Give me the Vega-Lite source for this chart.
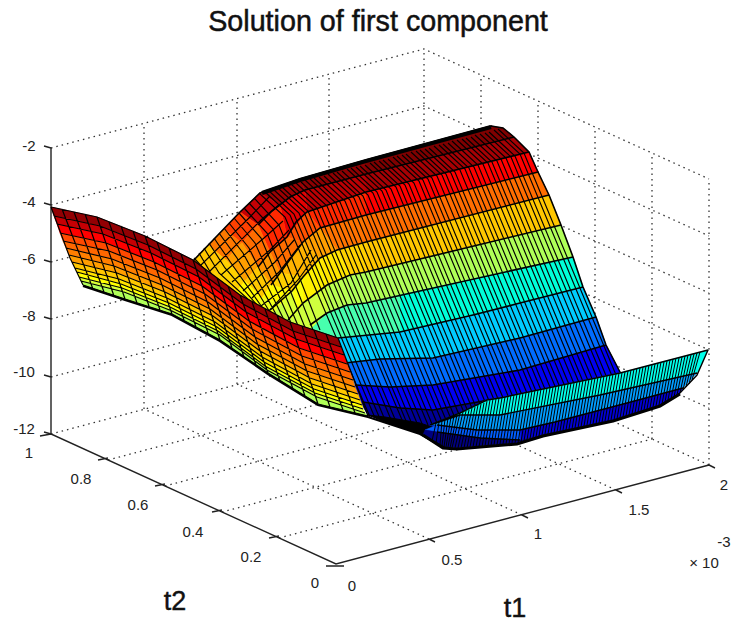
{"$schema":"https://vega.github.io/schema/vega-lite/v6.json","width":732,"height":622,"padding":0,"autosize":{"type":"none"},"background":"white","view":{"stroke":null},
"projection":{"type":"identity","scale":1,"translate":[0,0]},
"layer":[
{"data":{"values":[{"type":"Feature","properties":{"name":"grid"},"geometry":{"type":"MultiLineString","coordinates":[
[[51,148],[424,49],[709,179]],[[51,205],[424,106],[709,236]],[[51,262],[424,163],[709,293]],[[51,319],[424,220],[709,350]],[[51,377],[424,278],[709,408]],
[[144,409],[144,123]],[[237,384],[237,98]],[[329,360],[329,74]],[[424,335],[424,49]],
[[652,439],[652,153]],[[595,413],[595,127]],[[538,387],[538,101]],[[481,361],[481,75]],[[709,465],[709,179]],
[[429,539],[144,409]],[[522,515],[237,384]],[[616,490],[331,360]],[[709,465],[424,335]],
[[279,538],[652,439]],[[222,512],[595,413]],[[165,486],[538,387]],[[108,460],[481,361]],[[51,434],[424,335]]]}}]},
"mark":{"type":"geoshape","filled":false,"stroke":"#333333","strokeWidth":1.3,"strokeDash":[1.5,4]}},
{"data":{"values":[{"type":"Feature","properties":{"name":"axes"},"geometry":{"type":"MultiLineString","coordinates":[
[[51,148],[51,434],[336,564],[709,465]],[[44,146],[51,148]],[[44,203],[51,205]],[[44,260],[51,262]],[[44,317],[51,319]],[[44,375],[51,377]],[[44,432],[51,434]],[[40,436],[51,434]],
[[98,460],[108,458]],[[155,486],[165,484]],[[212,512],[222,510]],[[269,538],[279,536]],[[326,566],[344,566]],
[[429,539],[435,542]],[[522,515],[528,518]],[[616,490],[622,493]],[[709,465],[715,468]]]}}]},
"mark":{"type":"geoshape","filled":false,"stroke":"#222222","strokeWidth":1.4}},
{"data":{"values":[
{"type":"Feature","properties":{"z":-3.5},"geometry":{"type":"Polygon","coordinates":[[[491,126],[503,128],[514,137],[366,174],[366,160],[491,126]]]}},
{"type":"Feature","properties":{"z":-3.62},"geometry":{"type":"Polygon","coordinates":[[[366,160],[300,179],[305,190],[366,174],[366,160]]]}},
{"type":"Feature","properties":{"z":-3.74},"geometry":{"type":"Polygon","coordinates":[[[300,179],[260,193],[280,205],[305,190],[300,179]]]}},
{"type":"Feature","properties":{"z":-4.06},"geometry":{"type":"Polygon","coordinates":[[[260,193],[240,212],[258,225],[280,205],[260,193]]]}},
{"type":"Feature","properties":{"z":-4.78},"geometry":{"type":"Polygon","coordinates":[[[240,212],[224,229],[242,243],[258,225],[240,212]]]}},
{"type":"Feature","properties":{"z":-5.42},"geometry":{"type":"Polygon","coordinates":[[[224,229],[208,245],[226,260],[242,243],[224,229]]]}},
{"type":"Feature","properties":{"z":-6.06},"geometry":{"type":"Polygon","coordinates":[[[208,245],[192,262],[210,278],[226,260],[208,245]]]}},
{"type":"Feature","properties":{"z":-3.82},"geometry":{"type":"Polygon","coordinates":[[[514,137],[366,174],[366,192],[529,152],[514,137]]]}},
{"type":"Feature","properties":{"z":-3.98},"geometry":{"type":"Polygon","coordinates":[[[366,174],[305,190],[307,212],[366,192],[366,174]]]}},
{"type":"Feature","properties":{"z":-4.3},"geometry":{"type":"Polygon","coordinates":[[[305,190],[280,205],[287,237],[307,212],[305,190]]]}},
{"type":"Feature","properties":{"z":-4.62},"geometry":{"type":"Polygon","coordinates":[[[280,205],[258,225],[270,252],[287,237],[280,205]]]}},
{"type":"Feature","properties":{"z":-5.26},"geometry":{"type":"Polygon","coordinates":[[[258,225],[242,243],[258,267],[270,252],[258,225]]]}},
{"type":"Feature","properties":{"z":-5.74},"geometry":{"type":"Polygon","coordinates":[[[242,243],[226,260],[245,281],[258,267],[242,243]]]}},
{"type":"Feature","properties":{"z":-6.14},"geometry":{"type":"Polygon","coordinates":[[[226,260],[210,278],[233,296],[245,281],[226,260]]]}},
{"type":"Feature","properties":{"z":-4.5},"geometry":{"type":"Polygon","coordinates":[[[529,152],[366,192],[366,215],[538,172],[529,152]]]}},
{"type":"Feature","properties":{"z":-4.62},"geometry":{"type":"Polygon","coordinates":[[[366,192],[307,212],[320,228],[366,215],[366,192]]]}},
{"type":"Feature","properties":{"z":-4.94},"geometry":{"type":"Polygon","coordinates":[[[307,212],[287,237],[303,242],[320,228],[307,212]]]}},
{"type":"Feature","properties":{"z":-5.26},"geometry":{"type":"Polygon","coordinates":[[[287,237],[270,252],[280,273],[303,242],[287,237]]]}},
{"type":"Feature","properties":{"z":-5.66},"geometry":{"type":"Polygon","coordinates":[[[270,252],[258,267],[271,285],[280,273],[270,252]]]}},
{"type":"Feature","properties":{"z":-6.06},"geometry":{"type":"Polygon","coordinates":[[[258,267],[245,281],[262,298],[271,285],[258,267]]]}},
{"type":"Feature","properties":{"z":-6.46},"geometry":{"type":"Polygon","coordinates":[[[245,281],[233,296],[253,310],[262,298],[245,281]]]}},
{"type":"Feature","properties":{"z":-5.26},"geometry":{"type":"Polygon","coordinates":[[[538,172],[366,215],[366,242],[549,195],[538,172]]]}},
{"type":"Feature","properties":{"z":-5.34},"geometry":{"type":"Polygon","coordinates":[[[366,215],[320,228],[337,250],[366,242],[366,215]]]}},
{"type":"Feature","properties":{"z":-5.74},"geometry":{"type":"Polygon","coordinates":[[[320,228],[303,242],[320,258],[337,250],[320,228]]]}},
{"type":"Feature","properties":{"z":-5.9},"geometry":{"type":"Polygon","coordinates":[[[303,242],[280,273],[303,277],[320,258],[303,242]]]}},
{"type":"Feature","properties":{"z":-6.14},"geometry":{"type":"Polygon","coordinates":[[[280,273],[271,285],[292,291],[303,277],[280,273]]]}},
{"type":"Feature","properties":{"z":-6.46},"geometry":{"type":"Polygon","coordinates":[[[271,285],[262,298],[281,304],[292,291],[271,285]]]}},
{"type":"Feature","properties":{"z":-6.62},"geometry":{"type":"Polygon","coordinates":[[[262,298],[253,310],[270,318],[281,304],[262,298]]]}},
{"type":"Feature","properties":{"z":-6.06},"geometry":{"type":"Polygon","coordinates":[[[549,195],[366,242],[366,272],[561,225],[549,195]]]}},
{"type":"Feature","properties":{"z":-6.14},"geometry":{"type":"Polygon","coordinates":[[[366,242],[337,250],[350,275],[366,272],[366,242]]]}},
{"type":"Feature","properties":{"z":-6.3},"geometry":{"type":"Polygon","coordinates":[[[337,250],[320,258],[327,285],[350,275],[337,250]]]}},
{"type":"Feature","properties":{"z":-6.38},"geometry":{"type":"Polygon","coordinates":[[[320,258],[303,277],[303,303],[327,285],[320,258]]]}},
{"type":"Feature","properties":{"z":-6.54},"geometry":{"type":"Polygon","coordinates":[[[303,277],[292,291],[298,312],[303,303],[303,277]]]}},
{"type":"Feature","properties":{"z":-6.78},"geometry":{"type":"Polygon","coordinates":[[[292,291],[281,304],[293,321],[298,312],[292,291]]]}},
{"type":"Feature","properties":{"z":-6.94},"geometry":{"type":"Polygon","coordinates":[[[281,304],[270,318],[288,330],[293,321],[281,304]]]}},
{"type":"Feature","properties":{"z":-7.1},"geometry":{"type":"Polygon","coordinates":[[[561,225],[366,272],[366,303],[573,257],[561,225]]]}},
{"type":"Feature","properties":{"z":-7.1},"geometry":{"type":"Polygon","coordinates":[[[366,272],[350,275],[347,305],[366,303],[366,272]]]}},
{"type":"Feature","properties":{"z":-7.02},"geometry":{"type":"Polygon","coordinates":[[[350,275],[327,285],[327,313],[347,305],[350,275]]]}},
{"type":"Feature","properties":{"z":-6.86},"geometry":{"type":"Polygon","coordinates":[[[327,285],[303,303],[288,330],[310,335],[327,313],[327,285]]]}},
{"type":"Feature","properties":{"z":-8.14},"geometry":{"type":"Polygon","coordinates":[[[573,257],[400,295],[400,332],[473,315],[520,303],[583,287],[573,257]]]}},
{"type":"Feature","properties":{"z":-7.82},"geometry":{"type":"Polygon","coordinates":[[[400,295],[366,303],[347,305],[327,313],[310,330],[338,345],[400,332],[400,295]]]}},
{"type":"Feature","properties":{"z":-8.94},"geometry":{"type":"Polygon","coordinates":[[[583,287],[520,303],[473,315],[400,332],[338,338],[345,368],[380,359],[433,358],[520,338],[596,317],[583,287]]]}},
{"type":"Feature","properties":{"z":-9.74},"geometry":{"type":"Polygon","coordinates":[[[596,317],[520,338],[433,358],[380,359],[345,363],[350,390],[390,387],[433,385],[520,370],[606,345],[596,317]]]}},
{"type":"Feature","properties":{"z":-10.6},"geometry":{"type":"Polygon","coordinates":[[[606,345],[520,370],[433,385],[390,387],[355,385],[360,404],[400,408],[433,410],[500,398],[621,374],[606,345]]]}},
{"type":"Feature","properties":{"z":-11.3},"geometry":{"type":"Polygon","coordinates":[[[621,374],[500,398],[433,410],[400,408],[360,402],[368,415],[420,433],[445,447],[621,374]]]}}
]},
"mark":{"type":"geoshape","strokeWidth":0.6},"encoding":{"color":{"field":"properties.z","type":"quantitative","scale":{"domain":[-11.5,-10.5,-9.5,-8.5,-7.5,-6.5,-5.5,-4.5,-3.5],"range":["#00007f","#0000ff","#007fff","#00ffff","#7fff7f","#ffff00","#ff7f00","#ff0000","#7f0000"]},"legend":null},"stroke":{"field":"properties.z","type":"quantitative","scale":{"domain":[-11.5,-10.5,-9.5,-8.5,-7.5,-6.5,-5.5,-4.5,-3.5],"range":["#00007f","#0000ff","#007fff","#00ffff","#7fff7f","#ffff00","#ff7f00","#ff0000","#7f0000"]},"legend":null}}},
{"data":{"values":[{"type":"Feature","properties":{"name":"wall mesh"},"geometry":{"type":"MultiLineString","coordinates":[
[[498,129],[524,153],[616,375]],[[494,130],[520,154],[612,376]],[[489,132],[515,156],[607,378]],[[485,133],[511,157],[603,379]],[[480,134],[506,158],[598,380]],[[475,135],[501,159],[593,381]],[[471,137],[497,161],[589,383]],[[466,138],[492,162],[584,384]],[[462,139],[488,163],[580,385]],[[457,140],[483,164],[575,386]],[[452,141],[478,165],[570,387]],[[448,143],[474,167],[566,389]],[[443,144],[469,168],[561,390]],[[439,145],[465,169],[557,391]],[[434,146],[460,170],[552,392]],[[429,148],[455,172],[547,394]],[[425,149],[451,173],[543,395]],[[420,150],[446,174],[538,396]],[[416,151],[442,175],[534,397]],[[411,152],[437,176],[529,398]],[[406,154],[432,178],[524,400]],[[402,155],[428,179],[520,401]],[[397,156],[423,180],[515,402]],[[393,157],[419,181],[511,403]],[[388,159],[414,183],[506,405]],[[383,160],[409,184],[501,406]],[[379,161],[405,185],[497,407]],[[374,162],[400,186],[492,408]],[[370,163],[396,187],[488,409]],[[365,165],[391,189],[483,411]],[[360,166],[386,190],[478,412]],[[356,167],[382,191],[474,413]],[[351,168],[377,192],[469,414]],[[347,169],[373,193],[465,415]],[[342,171],[368,195],[460,417]],[[337,172],[363,196],[455,418]],[[333,173],[359,197],[451,419]],[[328,174],[354,198],[446,420]],[[324,176],[350,200],[442,422]],[[319,177],[345,201],[437,423]],[[314,178],[340,202],[432,424]],[[310,179],[336,203],[428,425]],[[305,180],[331,204],[423,426]],[[301,182],[327,206],[419,428]],[[296,183],[322,207],[414,429]],[[291,184],[317,208],[409,428]],[[287,185],[313,209],[405,427]],[[282,187],[308,211],[397,424]],[[278,188],[304,212],[392,422]],[[273,189],[299,213],[385,420]],[[268,190],[294,214],[380,419]],[[264,191],[290,215],[375,418]],[[259,193],[285,217],[370,417]],
[[254,198],[279,225],[320,330]],[[249,203],[273,229],[313,330]],[[244,208],[267,233],[306,330]],[[239,213],[261,238],[299,328]],[[234,218],[255,243],[292,325]],[[229,223],[249,248],[285,322]],[[224,228],[243,253],[278,318]],[[219,233],[237,258],[271,314]],[[214,238],[231,263],[264,310]],[[209,243],[225,268],[257,305]],[[204,248],[219,273],[250,301]],[[199,253],[212,275],[240,296]],[[194,258],[205,270],[230,288]],
[[270,196],[249,218],[201,265]],[[283,221],[264,238],[221,275]],[[295,239],[275,262],[243,291]],[[311,250],[291,283],[261,306]],
[[280,204],[262,219],[209,272]],[[289,230],[270,250],[232,282]],[[300,245],[279,272],[252,298]],[[316,255],[298,280],[268,312]]]}}]},
"mark":{"type":"geoshape","filled":false,"stroke":"#000000","strokeWidth":1.15}},
{"data":{"values":[{"type":"Feature","properties":{"name":"wall contours"},"geometry":{"type":"MultiLineString","coordinates":[
[[514,137],[366,174],[305,190],[290,197],[272,211],[258,225]],
[[529,152],[366,192],[307,212],[296,222],[287,237],[270,252],[258,267]],
[[538,172],[366,215],[320,228],[303,242],[291,258],[280,273],[271,285]],
[[549,195],[366,242],[337,250],[320,258],[303,277],[292,291],[270,310]],
[[561,225],[366,272],[350,275],[327,285],[303,303],[288,320]],
[[573,257],[366,303],[347,305],[327,313],[310,325]],
[[583,287],[520,303],[473,315],[400,332],[338,338]],
[[596,317],[520,338],[433,358],[380,359],[345,363]],
[[606,345],[520,370],[433,385],[390,387],[355,385]],
[[500,398],[433,410],[400,408],[363,402]],
[[503,128],[491,126],[366,160],[300,179],[260,193],[240,212],[192,262]],
[[491,126],[503,128],[514,137],[529,152],[538,172],[549,195],[561,225],[573,257],[583,287],[596,317],[606,345],[621,374]]]}}]},
"mark":{"type":"geoshape","filled":false,"stroke":"#000000","strokeWidth":1.6}},
{"data":{"values":[{"type":"Feature","properties":{"name":"ridge"},"geometry":{"type":"LineString","coordinates":[[491,127],[366,161],[300,180],[262,193]]}}]},
"mark":{"type":"geoshape","filled":false,"stroke":"#000000","strokeWidth":4}},
{"data":{"values":[{"type":"Feature","properties":{"name":"valley floor"},"geometry":{"type":"Polygon","coordinates":[[[368,415],[385,417],[420,423],[435,428],[445,447],[420,433],[390,424],[368,415]]]}}]},
"mark":{"type":"geoshape","fill":"#000000","stroke":"#000000","strokeWidth":1}},
{"data":{"values":[
{"type":"Feature","properties":{"z":-8.3},"geometry":{"type":"Polygon","coordinates":[[[708,350],[620,373],[500,398],[487,400],[460,413],[430,425],[460,415],[500,415],[600,395],[697,373],[708,350]]]}},
{"type":"Feature","properties":{"z":-9.3},"geometry":{"type":"Polygon","coordinates":[[[697,373],[600,395],[500,415],[460,415],[430,425],[437,425],[477,430],[520,430],[555,422],[627,403],[683,388],[697,373]]]}},
{"type":"Feature","properties":{"z":-10.8},"geometry":{"type":"Polygon","coordinates":[[[683,388],[627,403],[555,422],[520,430],[520,440],[613,420],[660,405],[680,393],[683,388]]]}},
{"type":"Feature","properties":{"z":-9.9},"geometry":{"type":"Polygon","coordinates":[[[520,430],[477,430],[437,425],[425,430],[437,432],[480,438],[520,440],[520,430]]]}},
{"type":"Feature","properties":{"z":-11.5},"geometry":{"type":"Polygon","coordinates":[[[520,440],[480,438],[437,432],[425,430],[423,435],[443,447],[457,448],[517,443],[543,435],[613,420],[520,440]]]}}
]},
"mark":{"type":"geoshape","strokeWidth":0.6},"encoding":{"color":{"field":"properties.z","type":"quantitative","scale":{"domain":[-11.5,-10.5,-9.5,-8.5,-7.5,-6.5,-5.5,-4.5,-3.5],"range":["#00007f","#0000ff","#007fff","#00ffff","#7fff7f","#ffff00","#ff7f00","#ff0000","#7f0000"]},"legend":null},"stroke":{"field":"properties.z","type":"quantitative","scale":{"domain":[-11.5,-10.5,-9.5,-8.5,-7.5,-6.5,-5.5,-4.5,-3.5],"range":["#00007f","#0000ff","#007fff","#00ffff","#7fff7f","#ffff00","#ff7f00","#ff0000","#7f0000"]},"legend":null}}},
{"data":{"values":[{"type":"Feature","properties":{"name":"lip mesh"},"geometry":{"type":"MultiLineString","coordinates":[
[[700,352],[692,380]],[[697,353],[689,384]],[[694,354],[686,387]],[[691,355],[683,390]],[[688,355],[680,393]],[[685,356],[677,395]],[[682,357],[674,397]],[[679,358],[671,399]],[[676,358],[668,400]],[[673,359],[665,402]],[[670,360],[662,404]],[[667,361],[659,405]],[[664,362],[656,406]],[[661,362],[653,407]],[[658,363],[650,408]],[[655,364],[647,409]],[[652,365],[644,410]],[[649,365],[641,411]],[[646,366],[638,412]],[[643,367],[635,413]],[[640,368],[632,414]],[[637,368],[629,415]],[[634,369],[626,416]],[[631,370],[623,417]],[[628,371],[620,418]],[[625,372],[617,419]],[[622,373],[614,420]],[[619,373],[611,420]],[[616,374],[608,421]],[[613,374],[605,421]],[[610,375],[602,422]],[[607,376],[599,423]],[[604,376],[596,424]],[[601,377],[593,424]],[[598,377],[590,425]],[[595,378],[587,425]],[[592,379],[584,426]],[[589,379],[581,427]],[[586,380],[578,428]],[[583,380],[575,428]],[[580,381],[572,429]],[[577,382],[569,429]],[[574,383],[566,430]],[[571,383],[563,430]],[[568,384],[560,431]],[[565,384],[557,432]],[[562,385],[554,433]],[[559,385],[551,433]],[[556,386],[548,434]],[[553,387],[545,434]],[[550,388],[542,435]],[[547,388],[539,436]],[[544,389],[536,437]],[[541,389],[533,438]],[[538,390],[530,439]],[[535,390],[527,440]],[[532,391],[524,441]],[[529,392],[521,442]],[[526,393],[518,443]],[[523,393],[515,443]],[[520,394],[512,443]],[[517,394],[509,444]],[[514,395],[506,444]],[[511,395],[503,444]],[[508,396],[500,444]],[[505,397],[497,445]],[[502,398],[494,445]],[[499,398],[491,446]],[[496,399],[488,446]],[[493,399],[485,446]],[[490,400],[482,447]],[[487,401],[479,447]],[[484,403],[476,447]],[[481,404],[473,447]],[[478,405],[470,447]],[[475,407],[467,448]],[[472,408],[464,448]],[[469,410],[461,448]],[[466,411],[458,448]],[[463,412],[455,448]],[[460,413],[452,448]],[[457,415],[450,448]],[[454,416],[448,447]],[[451,417],[446,447]],[[448,418],[444,447]],[[445,419],[442,446]],[[442,420],[440,445]],[[439,422],[436,443]],[[436,423],[432,441]]]}}]},
"mark":{"type":"geoshape","filled":false,"stroke":"#000000","strokeWidth":1}},
{"data":{"values":[{"type":"Feature","properties":{"name":"lip contours"},"geometry":{"type":"MultiLineString","coordinates":[
[[708,350],[620,373],[500,398],[487,400],[460,413],[430,425]],
[[697,373],[600,395],[500,415],[460,415],[430,425]],
[[683,388],[627,403],[555,422],[520,430],[477,430],[437,425]],
[[520,440],[480,438],[437,432]],
[[708,350],[697,375],[680,393],[660,405]]]}}]},
"mark":{"type":"geoshape","filled":false,"stroke":"#000000","strokeWidth":1.4}},
{"data":{"values":[{"type":"Feature","properties":{"name":"lip edge"},"geometry":{"type":"LineString","coordinates":[[680,394],[660,406],[613,421],[543,436],[517,444],[457,449],[443,448],[423,435]]}}]},
"mark":{"type":"geoshape","filled":false,"stroke":"#000000","strokeWidth":3}},
{"data":{"values":[
{"type":"Feature","properties":{"z":-3.66},"geometry":{"type":"Polygon","coordinates":[[[51,207],[97,217],[145,236],[193,260],[240,295],[290,322],[338,338],[341,347],[293,331],[243,304],[196,269],[148,245],[100,226],[54,216],[51,207]]]}},
{"type":"Feature","properties":{"z":-4.06},"geometry":{"type":"Polygon","coordinates":[[[54,216],[100,226],[148,245],[196,269],[243,304],[293,331],[341,347],[344,355],[296,339],[246,312],[199,277],[151,253],[103,234],[57,224],[54,216]]]}},
{"type":"Feature","properties":{"z":-4.5},"geometry":{"type":"Polygon","coordinates":[[[57,224],[103,234],[151,253],[199,277],[246,312],[296,339],[344,355],[347,364],[299,348],[249,321],[202,286],[154,262],[106,243],[60,233],[57,224]]]}},
{"type":"Feature","properties":{"z":-4.86},"geometry":{"type":"Polygon","coordinates":[[[60,233],[106,243],[154,262],[202,286],[249,321],[299,348],[347,364],[350,372],[302,356],[252,329],[205,294],[157,270],[109,251],[63,241],[60,233]]]}},
{"type":"Feature","properties":{"z":-5.18},"geometry":{"type":"Polygon","coordinates":[[[63,241],[109,251],[157,270],[205,294],[252,329],[302,356],[350,372],[353,380],[305,364],[255,337],[208,302],[160,278],[112,259],[66,248],[63,241]]]}},
{"type":"Feature","properties":{"z":-5.5},"geometry":{"type":"Polygon","coordinates":[[[66,248],[112,259],[160,278],[208,302],[255,337],[305,364],[353,380],[355,387],[307,371],[257,344],[210,309],[162,285],[114,266],[69,255],[66,248]]]}},
{"type":"Feature","properties":{"z":-5.74},"geometry":{"type":"Polygon","coordinates":[[[69,255],[114,266],[162,285],[210,309],[257,344],[307,371],[355,387],[358,394],[310,378],[260,351],[213,316],[165,292],[117,273],[72,262],[69,255]]]}},
{"type":"Feature","properties":{"z":-6.06},"geometry":{"type":"Polygon","coordinates":[[[72,262],[117,273],[165,292],[213,316],[260,351],[310,378],[358,394],[360,400],[312,384],[262,357],[215,322],[167,298],[119,279],[75,268],[72,262]]]}},
{"type":"Feature","properties":{"z":-6.26},"geometry":{"type":"Polygon","coordinates":[[[75,268],[119,279],[167,298],[215,322],[262,357],[312,384],[360,400],[362,405],[314,389],[264,362],[217,327],[169,303],[121,284],[77,272],[75,268]]]}},
{"type":"Feature","properties":{"z":-6.5},"geometry":{"type":"Polygon","coordinates":[[[77,272],[121,284],[169,303],[217,327],[264,362],[314,389],[362,405],[363,409],[315,393],[265,366],[218,331],[170,307],[122,288],[79,277],[77,272]]]}},
{"type":"Feature","properties":{"z":-6.78},"geometry":{"type":"Polygon","coordinates":[[[79,277],[122,288],[170,307],[218,331],[265,366],[315,393],[363,409],[365,413],[317,397],[267,370],[220,335],[172,311],[124,292],[81,281],[79,277]]]}},
{"type":"Feature","properties":{"z":-7.1},"geometry":{"type":"Polygon","coordinates":[[[81,281],[124,292],[172,311],[220,335],[267,370],[317,397],[365,413],[368,416],[318,404],[268,373],[220,340],[172,314],[125,299],[83,285],[81,281]]]}}
]},
"mark":{"type":"geoshape","strokeWidth":0.6},"encoding":{"color":{"field":"properties.z","type":"quantitative","scale":{"domain":[-11.5,-10.5,-9.5,-8.5,-7.5,-6.5,-5.5,-4.5,-3.5],"range":["#00007f","#0000ff","#007fff","#00ffff","#7fff7f","#ffff00","#ff7f00","#ff0000","#7f0000"]},"legend":null},"stroke":{"field":"properties.z","type":"quantitative","scale":{"domain":[-11.5,-10.5,-9.5,-8.5,-7.5,-6.5,-5.5,-4.5,-3.5],"range":["#00007f","#0000ff","#007fff","#00ffff","#7fff7f","#ffff00","#ff7f00","#ff0000","#7f0000"]},"legend":null}}},
{"data":{"values":[{"type":"Feature","properties":{"name":"face mesh"},"geometry":{"type":"MultiLineString","coordinates":[
[[51,207],[97,217],[145,236],[193,260],[240,295],[290,322],[338,338]],
[[54,216],[100,226],[148,245],[196,269],[243,304],[293,331],[341,347]],
[[57,224],[103,234],[151,253],[199,277],[246,312],[296,339],[344,355]],
[[60,233],[106,243],[154,262],[202,286],[249,321],[299,348],[347,364]],
[[63,241],[109,251],[157,270],[205,294],[252,329],[302,356],[350,372]],
[[66,248],[112,259],[160,278],[208,302],[255,337],[305,364],[353,380]],
[[69,255],[114,266],[162,285],[210,309],[257,344],[307,371],[355,387]],
[[72,262],[117,273],[165,292],[213,316],[260,351],[310,378],[358,394]],
[[75,268],[119,279],[167,298],[215,322],[262,357],[312,384],[360,400]],
[[77,272],[121,284],[169,303],[217,327],[264,362],[314,389],[362,405]],
[[79,277],[122,288],[170,307],[218,331],[265,366],[315,393],[363,409]],
[[81,281],[124,292],[172,311],[220,335],[267,370],[317,397],[365,413]],
[[83,285],[125,299],[172,314],[220,340],[268,373],[318,404],[368,416]],
[[51,207],[70,258],[83,285]],[[62,209],[93,289]],[[74,212],[104,292]],[[85,214],[114,296]],[[97,217],[125,299]],[[109,222],[137,303]],[[121,226],[149,306]],[[133,231],[160,310]],[[145,236],[172,314]],[[157,242],[184,320]],[[169,248],[196,327]],[[181,254],[208,333]],[[193,260],[220,340]],[[205,269],[232,348]],[[217,278],[244,357]],[[228,286],[256,365]],[[240,295],[268,373]],[[252,302],[280,381]],[[265,309],[293,389]],[[277,315],[305,396]],[[290,322],[318,404]],[[302,326],[330,407]],[[314,330],[343,410]],[[326,334],[355,413]],[[338,338],[368,416]]]}}]},
"mark":{"type":"geoshape","filled":false,"stroke":"#000000","strokeWidth":1.2}},
{"data":{"values":[{"type":"Feature","properties":{"name":"face edge"},"geometry":{"type":"LineString","coordinates":[[83,286],[125,300],[172,315],[220,341],[268,374],[318,405],[368,417],[420,434],[445,448]]}}]},
"mark":{"type":"geoshape","filled":false,"stroke":"#000000","strokeWidth":2.2}},
{"data":{"values":[{"label":"-2","px":29,"py":146},{"label":"-4","px":29,"py":202},{"label":"-6","px":29,"py":259},{"label":"-8","px":29,"py":316},{"label":"-10","px":24,"py":372},{"label":"-12","px":24,"py":429},
{"label":"1","px":29,"py":453},{"label":"0.8","px":81,"py":479},{"label":"0.6","px":138,"py":505},{"label":"0.4","px":193,"py":532},{"label":"0.2","px":251,"py":557},{"label":"0","px":315,"py":583},
{"label":"0","px":352,"py":586},{"label":"0.5","px":452,"py":560},{"label":"1","px":538,"py":534},{"label":"1.5","px":639,"py":510},{"label":"2","px":724,"py":485},{"label":"× 10","px":704,"py":563},{"label":"-3","px":724,"py":542}]},
"mark":{"type":"text","font":"Liberation Sans","fontSize":15,"color":"#222222","align":"center","baseline":"middle"},
"encoding":{"x":{"field":"px","type":"quantitative","scale":{"domain":[0,732],"range":[0,732],"nice":false},"axis":null},"y":{"field":"py","type":"quantitative","scale":{"domain":[0,622],"range":[0,622],"nice":false},"axis":null},"text":{"field":"label"}}},
{"data":{"values":[{"label":"t2","px":175,"py":602},{"label":"t1","px":515,"py":609}]},
"mark":{"type":"text","font":"Liberation Sans","fontSize":27,"color":"#111111","align":"center","baseline":"middle","stroke":"#111111","strokeWidth":0.4},
"encoding":{"x":{"field":"px","type":"quantitative","scale":{"domain":[0,732],"range":[0,732],"nice":false},"axis":null},"y":{"field":"py","type":"quantitative","scale":{"domain":[0,622],"range":[0,622],"nice":false},"axis":null},"text":{"field":"label"}}},
{"data":{"values":[{"label":"Solution of first component","px":378,"py":22}]},
"mark":{"type":"text","font":"Liberation Sans","fontSize":28.7,"color":"#111111","align":"center","baseline":"middle","stroke":"#111111","strokeWidth":0.5},
"encoding":{"x":{"field":"px","type":"quantitative","scale":{"domain":[0,732],"range":[0,732],"nice":false},"axis":null},"y":{"field":"py","type":"quantitative","scale":{"domain":[0,622],"range":[0,622],"nice":false},"axis":null},"text":{"field":"label"}}}
],"config":{"style":{"cell":{"stroke":null}}},"resolve":{"scale":{"color":"shared"}}}
